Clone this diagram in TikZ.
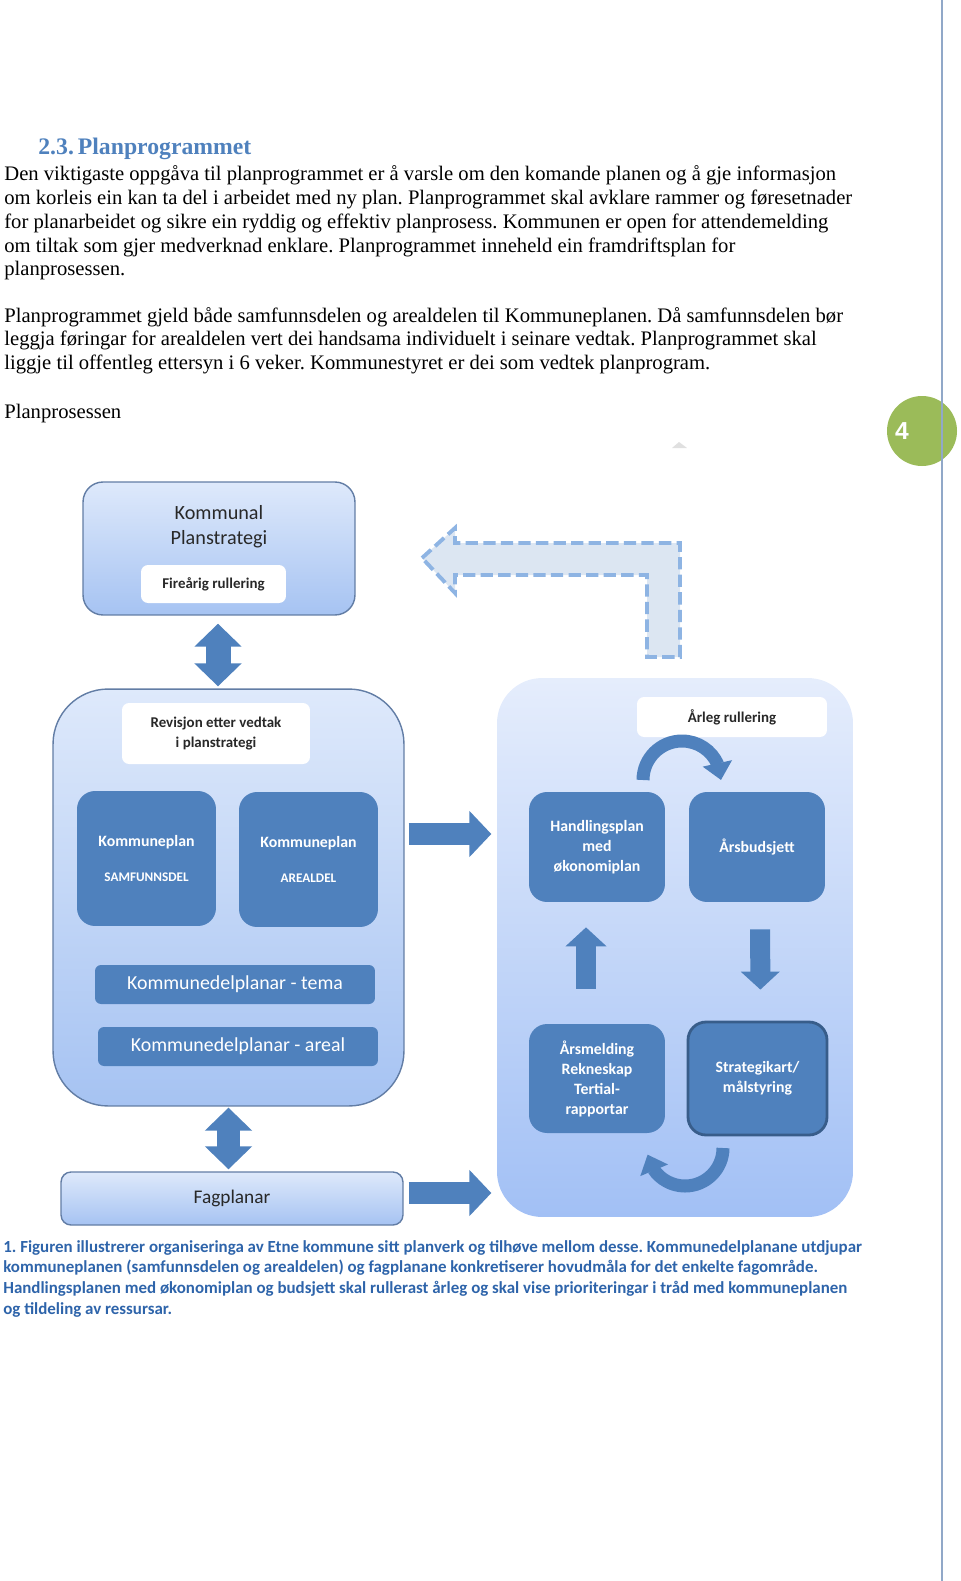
\documentclass[tikz,border=0pt]{standalone}
\usepackage{fontspec}
\setmainfont{Liberation Serif}
\newfontfamily\carlito{Carlito}
\newfontfamily\arialfont{Liberation Sans}
\usetikzlibrary{arrows.meta,bending}
\definecolor{blaa}{RGB}{79,129,189}
\definecolor{morkblaa}{RGB}{56,93,138}
\definecolor{ramme}{RGB}{98,125,165}
\definecolor{lystopp}{RGB}{222,233,251}
\definecolor{lysbunn}{RGB}{166,195,242}
\definecolor{hoyretopp}{RGB}{229,237,252}
\definecolor{hoyrebunn}{RGB}{162,192,245}
\definecolor{stipla}{RGB}{142,180,227}
\definecolor{stiplafyll}{RGB}{220,230,242}
\definecolor{overskrift}{RGB}{79,129,189}
\definecolor{figtekst}{RGB}{46,100,170}
\definecolor{gronn}{RGB}{155,187,89}
\definecolor{kantlinje}{RGB}{145,168,200}
\definecolor{tekstgraa}{RGB}{40,40,40}
\frenchspacing

\begin{document}
\begin{tikzpicture}[x=0.02cm, y=-0.02cm, every node/.style={inner sep=0pt},
  lysboks/.style={draw=ramme, line width=0.8pt, top color=lystopp, bottom color=lysbunn, rounded corners=0.4cm},
  morkboks/.style={fill=blaa, text=white, rounded corners=0.36cm, align=center, font=\carlito\bfseries\fontsize{9}{11.4}\selectfont},
  kvitboks/.style={fill=white, rounded corners=0.14cm, align=center, text=tekstgraa, font=\carlito\bfseries\fontsize{8.5}{11.4}\selectfont},
  blokkpil/.style={draw=blaa, line width=0.44cm, -{Triangle[width=0.9cm,length=0.44cm]}},
  dobbelpil/.style={draw=blaa, line width=0.5cm, {Triangle[width=0.92cm,length=0.46cm]}-{Triangle[width=0.92cm,length=0.46cm]}},
  bogepil/.style={draw=blaa, line width=0.26cm, -{Triangle[width=0.58cm,length=0.34cm,flex]}},
  brodtekst/.style={anchor=base west, font=\fontsize{11.75}{13.4}\selectfont},
  figurtekst/.style={anchor=base west, text=figtekst, font=\carlito\bfseries\fontsize{9.63}{11.7}\selectfont}]
\useasboundingbox (0,0) rectangle (960,1581);

% sidekant og sidetal
\draw[kantlinje, line width=1.5pt] (942,0) -- (942,1581);
\fill[gronn] (922,431) circle[radius=35];
\draw[kantlinje, line width=1.5pt] (942,396) -- (942,466);
\node[text=white, font=\arialfont\bfseries\fontsize{14}{16}\selectfont] (sidetal) at (902,431) {4};
\fill[black!12] (672,448) -- (679,442) -- (687,448) -- cycle;

% tekst
\node[anchor=base west, text=overskrift, font=\bfseries\fontsize{13.5}{16}\selectfont] (overskrift) at (38,155) {2.3.\,Planprogrammet};
\foreach \linje [count=\i] in {
  {Den viktigaste oppgåva til planprogrammet er å varsle om den komande planen og å gje informasjon},
  {om korleis ein kan ta del i arbeidet med ny plan. Planprogrammet skal avklare rammer og føresetnader},
  {for planarbeidet og sikre ein ryddig og effektiv planprosess. Kommunen er open for attendemelding},
  {om tiltak som gjer medverknad enklare. Planprogrammet inneheld ein framdriftsplan for},
  {planprosessen.}}
  \node[brodtekst] (avsnitt1-\i) at (4,{181+23.7*(\i-1)}) {\linje};
\foreach \linje [count=\i] in {
  {Planprogrammet gjeld både samfunnsdelen og arealdelen til Kommuneplanen. Då samfunnsdelen bør},
  {leggja føringar for arealdelen vert dei handsama individuelt i seinare vedtak. Planprogrammet skal},
  {liggje til offentleg ettersyn i 6 veker. Kommunestyret er dei som vedtek planprogram.}}
  \node[brodtekst] (avsnitt2-\i) at (4,{322+23.7*(\i-1)}) {\linje};
\node[brodtekst] (planprosessen) at (4,418) {Planprosessen};

% stipla pil tilbake
\draw[stipla, fill=stiplafyll, line width=2.2pt, dash pattern=on 7pt off 3pt]
  (422,558) -- (455,528) -- (455,543) -- (680,543) -- (680,657) -- (647,657)
  -- (647,575) -- (455,575) -- (455,593) -- cycle;

% planstrategi
\node[lysboks, minimum width=5.44cm, minimum height=2.66cm] (strat) at (219,548.5) {};
\node[text=tekstgraa, align=center, font=\carlito\fontsize{11.5}{14.2}\selectfont] (strattekst) at (219,527) {Kommunal\\Planstrategi};
\node[kvitboks, minimum width=2.9cm, minimum height=0.76cm] (firearig) at (213.5,584) {Fireårig rullering};

% kommuneplan
\node[lysboks, rounded corners=1.1cm, minimum width=7.02cm, minimum height=8.34cm] (kplan) at (228.5,897.5) {};
\node[kvitboks, minimum width=3.76cm, minimum height=1.22cm] (revisjon) at (216,733.5) {Revisjon etter vedtak\\i planstrategi};
\node[morkboks, minimum width=2.78cm, minimum height=2.7cm] (samf) at (146.5,858.5) {Kommuneplan\\[8.5pt]{\fontsize{7.5}{9}\selectfont SAMFUNNSDEL}};
\node[morkboks, minimum width=2.78cm, minimum height=2.7cm] (areal) at (308.5,859.5) {Kommuneplan\\[8.5pt]{\fontsize{7.5}{9}\selectfont AREALDEL}};
\node[morkboks, rounded corners=0.12cm, minimum width=5.6cm, minimum height=0.78cm, font=\carlito\fontsize{11.3}{13}\selectfont] (tema) at (235,984.5) {Kommunedelplanar - tema};
\node[morkboks, rounded corners=0.12cm, minimum width=5.6cm, minimum height=0.78cm, font=\carlito\fontsize{11.3}{13}\selectfont] (kdpareal) at (238,1046.5) {Kommunedelplanar - areal};

% fagplanar
\node[lysboks, rounded corners=0.2cm, minimum width=6.84cm, minimum height=1.06cm, text=tekstgraa, font=\carlito\fontsize{11}{13}\selectfont] (fag) at (232,1198.5) {Fagplanar};

% arleg syklus
\node[lysboks, draw=none, top color=hoyretopp, bottom color=hoyrebunn, rounded corners=0.9cm, minimum width=7.12cm, minimum height=10.78cm] (hoyre) at (675,947.5) {};
\node[kvitboks, minimum width=3.8cm, minimum height=0.8cm] (arleg) at (732,717) {Årleg rullering};
\node[morkboks, minimum width=2.72cm, minimum height=2.2cm] (handling) at (597,847) {Handlingsplan\\med\\økonomiplan};
\node[morkboks, minimum width=2.72cm, minimum height=2.2cm] (budsjett) at (757,847) {Årsbudsjett};
\node[morkboks, minimum width=2.72cm, minimum height=2.18cm] (arsmelding) at (597,1078.5) {Årsmelding\\Rekneskap\\Tertial-\\rapportar};
\node[morkboks, draw=morkblaa, line width=1.6pt, minimum width=2.78cm, minimum height=2.26cm] (strategikart) at (757.5,1078.5) {Strategikart/\\målstyring};

% piler
\draw[dobbelpil, shorten <=0.16cm, shorten >=0.04cm] (strat.south -| 218,0) -- (kplan.north -| 218,0);
\draw[dobbelpil, line width=0.46cm, shorten <=0.02cm, shorten >=0.04cm] (kplan.south) -- (kplan.south |- fag.north);
\draw[blokkpil, shorten <=0.08cm, shorten >=0.1cm] (kplan.east |- 0,834) -- (hoyre.west |- 0,834);
\draw[blokkpil, shorten <=0.1cm, shorten >=0.1cm] (fag.east |- 0,1193) -- (hoyre.west |- 0,1193);
\draw[blokkpil, line width=0.4cm, -{Triangle[width=0.8cm,length=0.38cm]}, shorten <=0.7cm, shorten >=0.5cm]
  ([xshift=-0.22cm]arsmelding.north) -- ([xshift=-0.22cm]handling.south);
\draw[blokkpil, line width=0.4cm, -{Triangle[width=0.76cm,length=0.36cm]}, shorten <=0.54cm, shorten >=0.62cm]
  ([xshift=0.06cm]budsjett.south) -- ([xshift=0.06cm]strategikart.north);
\draw[bogepil] (643,780) arc[start angle=180, end angle=360, radius=39];
\draw[bogepil] (723,1148) arc[start angle=0, end angle=170, radius=38];

% figurtekst
\foreach \linje [count=\i] in {
  {1. Figuren illustrerer organiseringa av Etne kommune sitt planverk og tilhøve mellom desse. Kommunedelplanane utdjupar},
  {kommuneplanen (samfunnsdelen og arealdelen) og fagplanane konkretiserer hovudmåla for det enkelte fagområde.},
  {Handlingsplanen med økonomiplan og budsjett skal rullerast årleg og skal vise prioriteringar i tråd med kommuneplanen},
  {og tildeling av ressursar.}}
  \node[figurtekst] (figtekst-\i) at (3,{1252+20.7*(\i-1)}) {\linje};
\end{tikzpicture}
\end{document}
